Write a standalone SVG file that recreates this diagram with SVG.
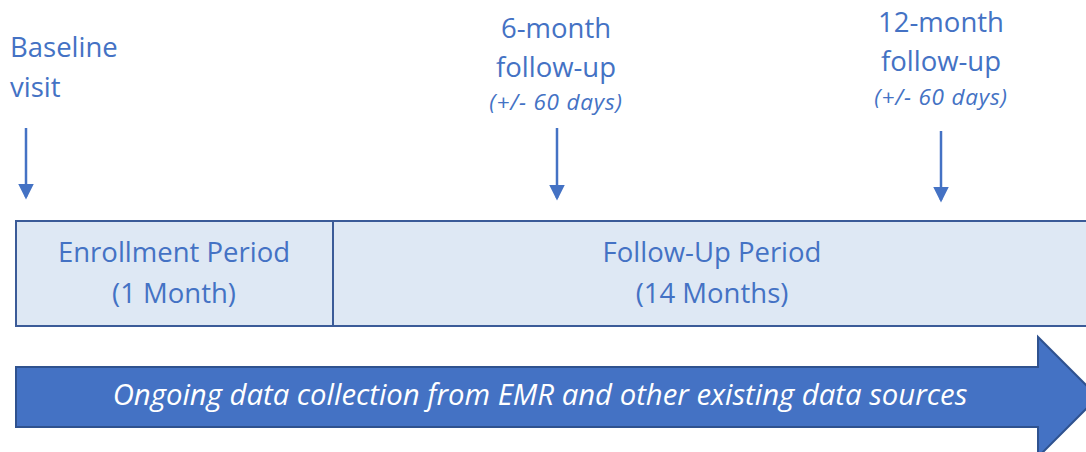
<svg xmlns="http://www.w3.org/2000/svg" width="1086" height="452" viewBox="0 0 1086 452">
<style>
.lbl{font-family:"Open Sans","Liberation Sans",sans-serif;fill:#4472C4;text-anchor:middle}
.big{font-size:27.5px}
.it{font-size:22.5px;font-style:italic;letter-spacing:0.8px}
.conn{stroke:#4472C4;stroke-width:2.5;fill:none}
</style>
<defs>
<marker id="ah" markerWidth="6.4" markerHeight="6.4" refX="5.4" refY="3.2" orient="auto" markerUnits="strokeWidth">
<path d="M0,0 L6.4,3.2 L0,6.4 Z" fill="#4472C4"/>
</marker>
</defs>
<rect width="1086" height="452" fill="#FFFFFF"/>
<g id="baseline">
<text class="lbl big" x="10" y="57" style="text-anchor:start">Baseline</text>
<text class="lbl big" x="10" y="97" style="text-anchor:start">visit</text>
</g>
<g id="m6">
<text class="lbl big" x="556" y="38">6-month</text>
<text class="lbl big" x="556" y="77">follow-up</text>
<text class="lbl it" x="556" y="110">(+/- 60 days)</text>
</g>
<g id="m12">
<text class="lbl big" x="941" y="32">12-month</text>
<text class="lbl big" x="941" y="71">follow-up</text>
<text class="lbl it" x="941" y="105">(+/- 60 days)</text>
</g>
<g id="enroll">
<rect x="16" y="221" width="317" height="105" fill="#DEE8F4" stroke="#3B5B98" stroke-width="2"/>
<text class="lbl big" x="174" y="262">Enrollment Period</text>
<text class="lbl big" x="174" y="303">(1 Month)</text>
</g>
<g id="followup">
<rect x="333" y="221" width="770" height="105" fill="#DEE8F4" stroke="#3B5B98" stroke-width="2"/>
<text class="lbl big" x="712" y="262">Follow-Up Period</text>
<text class="lbl big" x="712" y="303">(14 Months)</text>
</g>
<g id="ongoing">
<path d="M16,367 H1038 V337 L1098,397 L1038,457 V427 H16 Z" fill="#4472C4" stroke="#2F528F" stroke-width="2"/>
<text x="540" y="405" style="font-family:'Open Sans','Liberation Sans',sans-serif;font-size:29.3px;font-style:italic;fill:#FFFFFF;text-anchor:middle">Ongoing data collection from EMR and other existing data sources</text>
</g>
<g id="connectors">
<line class="conn" x1="26" y1="128" x2="26" y2="197" marker-end="url(#ah)"/>
<line class="conn" x1="557" y1="128" x2="557" y2="198" marker-end="url(#ah)"/>
<line class="conn" x1="941" y1="131" x2="941" y2="200" marker-end="url(#ah)"/>
</g>
</svg>
